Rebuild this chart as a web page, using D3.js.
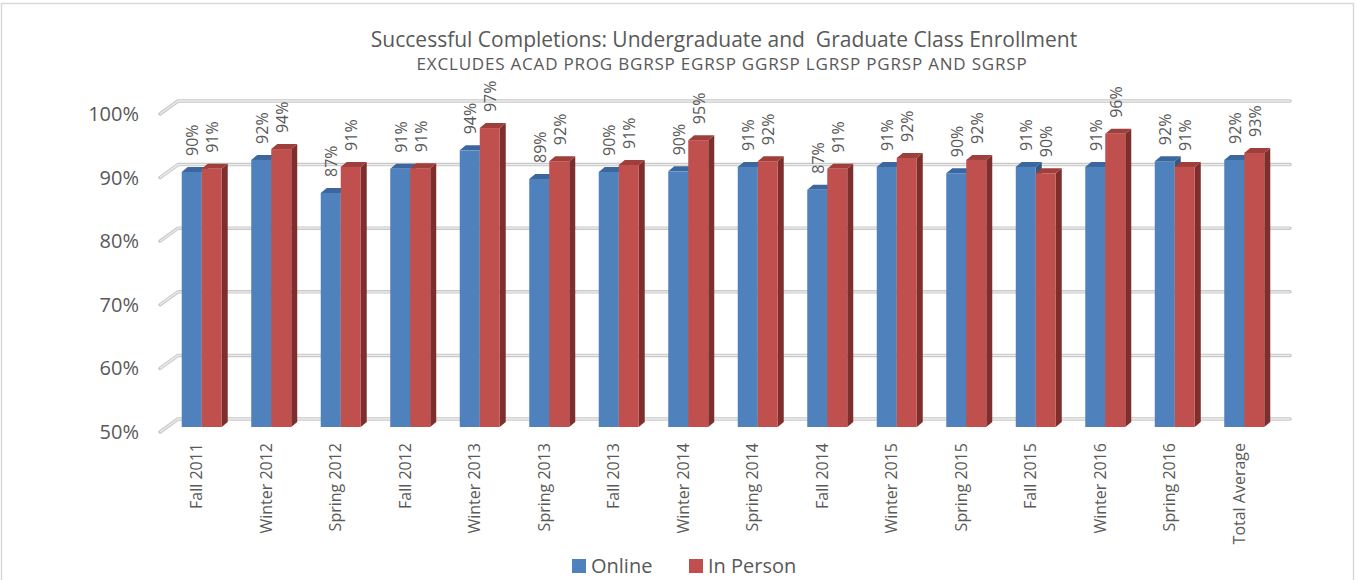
<!DOCTYPE html>
<html>
<head>
<meta charset="utf-8">
<script src="https://cdn.jsdelivr.net/npm/d3@7"></script>
<style>
  body { margin: 0; background: #fff; }
  svg text { font-family: "Open Sans", sans-serif; fill: #595959; }
</style>
</head>
<body>
<div id="chart"></div>
<script>
var categories = ["Fall 2011", "Winter 2012", "Spring 2012", "Fall 2012", "Winter 2013", "Spring 2013",
  "Fall 2013", "Winter 2014", "Spring 2014", "Fall 2014", "Winter 2015", "Spring 2015",
  "Fall 2015", "Winter 2016", "Spring 2016", "Total Average"];
var online = [90.1, 92.0, 86.8, 90.6, 93.5, 89.0, 90.1, 90.2, 90.9, 87.3, 90.9, 89.9, 90.9, 90.9, 91.8, 92.0];
var inPerson = [90.6, 93.7, 90.9, 90.7, 97.0, 91.8, 91.2, 95.1, 91.8, 90.6, 92.3, 92.0, 89.9, 96.1, 90.9, 93.1];
var seriesNames = ["Online", "In Person"];
var yTicks = [50, 60, 70, 80, 90, 100];

var width = 1357, height = 580;

// front plane of the 3D box, back wall is shifted by wallOff
var wallOff = { x: 18, y: -13 };
var barOff = { x: 7, y: -5 };     // front face of the bars
var barDepth = { x: 6, y: -5 };   // side / top depth of the bars

var colours = {
  "Online":    { front: "#4F81BD", top: "#3C679E", side: "#34587F" },
  "In Person": { front: "#C0504D", top: "#9E3F3C", side: "#7E2F2D" }
};

var svg = d3.select("#chart")
  .append("svg")
  .attr("width", width)
  .attr("height", height);

svg.append("rect")
  .attr("x", 1.5).attr("y", 3.5)
  .attr("width", 1352).attr("height", 590)
  .attr("fill", "#fff")
  .attr("stroke", "#d9d9d9")
  .attr("stroke-width", 1.5);

var x0 = d3.scaleBand()
  .domain(categories)
  .range([160, 1272])
  .paddingInner(0.4245)
  .paddingOuter(0.212);

var x1 = d3.scaleBand()
  .domain(seriesNames)
  .range([0, x0.bandwidth()]);

var y = d3.scaleLinear()
  .domain([50, 100])
  .range([432, 114]);

// gridlines: side wall diagonal + back wall horizontal
var grid = svg.append("g").attr("class", "grid");
yTicks.forEach(function(t) {
  var pts = [[160, y(t)], [160 + wallOff.x, y(t) + wallOff.y], [1272 + wallOff.x, y(t) + wallOff.y]];
  grid.append("path")
    .attr("d", d3.line()(pts))
    .attr("fill", "none")
    .attr("stroke", "#c9c9c9")
    .attr("stroke-width", 3.5)
    .attr("stroke-linejoin", "round")
    .attr("stroke-linecap", "round");
  grid.append("path")
    .attr("d", d3.line()(pts))
    .attr("fill", "none")
    .attr("stroke", "#ececec")
    .attr("stroke-width", 1.3)
    .attr("stroke-linejoin", "round");
});

// y axis labels
svg.append("g")
  .selectAll("text")
  .data(yTicks)
  .enter()
  .append("text")
  .attr("x", 139)
  .attr("y", function(d) { return y(d); })
  .attr("dy", "0.35em")
  .attr("text-anchor", "end")
  .style("font-size", "20px")
  .text(function(d) { return d + "%"; });

var rows = [];
categories.forEach(function(c, i) {
  rows.push({ cat: c, series: "Online", value: online[i] });
  rows.push({ cat: c, series: "In Person", value: inPerson[i] });
});

var bars = svg.append("g").attr("class", "bars")
  .selectAll("g")
  .data(rows)
  .enter()
  .append("g");

function barGeom(d) {
  var xl = x0(d.cat) + x1(d.series) + barOff.x;
  var xr = xl + x1.bandwidth();
  var yt = y(d.value) + barOff.y;
  var yb = y(50) + barOff.y;
  return { xl: xl, xr: xr, yt: yt, yb: yb };
}

// side face
bars.append("path")
  .attr("d", function(d) {
    var g = barGeom(d);
    return d3.line()([[g.xr, g.yt], [g.xr + barDepth.x, g.yt + barDepth.y],
      [g.xr + barDepth.x, g.yb + barDepth.y], [g.xr, g.yb]]) + "Z";
  })
  .attr("fill", function(d) { return colours[d.series].side; });

// top face
bars.append("path")
  .attr("d", function(d) {
    var g = barGeom(d);
    return d3.line()([[g.xl, g.yt], [g.xl + barDepth.x, g.yt + barDepth.y],
      [g.xr + barDepth.x, g.yt + barDepth.y], [g.xr, g.yt]]) + "Z";
  })
  .attr("fill", function(d) { return colours[d.series].top; });

// front face
bars.append("rect")
  .attr("x", function(d) { return barGeom(d).xl; })
  .attr("y", function(d) { return barGeom(d).yt; })
  .attr("width", x1.bandwidth())
  .attr("height", function(d) { var g = barGeom(d); return g.yb - g.yt; })
  .attr("fill", function(d) { return colours[d.series].front; });

// value labels
bars.append("text")
  .attr("transform", function(d) {
    var g = barGeom(d);
    return "translate(" + ((g.xl + g.xr) / 2 + 1) + "," + (g.yt - 16) + ") rotate(-90)";
  })
  .attr("dy", "0.35em")
  .attr("text-anchor", "start")
  .style("font-size", "16px")
  .text(function(d) { return d3.format(".0f")(d.value) + "%"; });

// category labels
svg.append("g")
  .selectAll("text")
  .data(categories)
  .enter()
  .append("text")
  .attr("transform", function(d) {
    return "translate(" + (x0(d) + x0.bandwidth() / 2 + 2) + ",443) rotate(-90)";
  })
  .attr("dy", "0.35em")
  .attr("text-anchor", "end")
  .style("font-size", "16px")
  .text(function(d) { return d; });

// titles
svg.append("text")
  .attr("x", 724)
  .attr("y", 47)
  .attr("text-anchor", "middle")
  .style("font-size", "21px")
  .style("white-space", "pre")
  .text("Successful Completions: Undergraduate and  Graduate Class Enrollment");

svg.append("text")
  .attr("x", 722)
  .attr("y", 70)
  .attr("text-anchor", "middle")
  .style("font-size", "17px")
  .style("letter-spacing", "0.8px")
  .text("EXCLUDES ACAD PROG BGRSP EGRSP GGRSP LGRSP PGRSP AND SGRSP");

// legend
var legendX = [572, 689];
var legend = svg.append("g")
  .selectAll("g")
  .data(seriesNames)
  .enter()
  .append("g")
  .attr("transform", function(d, i) { return "translate(" + legendX[i] + ",559)"; });

legend.append("rect")
  .attr("width", 14).attr("height", 14)
  .attr("fill", function(d) { return colours[d].front; });

legend.append("text")
  .attr("x", 19)
  .attr("y", 7)
  .attr("dy", "0.35em")
  .style("font-size", "20px")
  .text(function(d) { return d; });
</script>
</body>
</html>
